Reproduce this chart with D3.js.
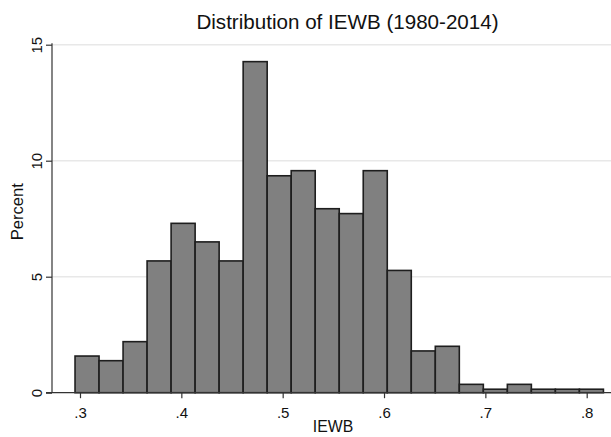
<!DOCTYPE html>
<html>
<head>
<meta charset="utf-8">
<script src="https://cdn.jsdelivr.net/npm/d3@7"></script>
<style>
html,body{margin:0;padding:0;background:#fff;}
svg{display:block;font-family:"Liberation Sans",Arial,Helvetica,sans-serif;}
</style>
</head>
<body>
<svg id="chart" width="611" height="437"></svg>
<script>
// Histogram bin lower/upper edges (IEWB)
const binEdges = [0.2951,0.3188,0.3425,0.3662,0.3899,0.4136,0.4373,0.4610,0.4847,0.5084,0.5321,
                  0.5558,0.5795,0.6032,0.6269,0.6506,0.6743,0.6980,0.7217,0.7454,0.7691,0.7928,0.8165];
// Percent in each bin
const percents = [1.58,1.38,2.20,5.68,7.30,6.50,5.68,14.27,9.35,9.57,7.93,
                  7.72,9.57,5.27,1.80,2.00,0.36,0.15,0.36,0.15,0.15,0.15];
const xTicks = [0.3,0.4,0.5,0.6,0.7,0.8];
const xTickLabels = [".3",".4",".5",".6",".7",".8"];
const yTicks = [0,5,10,15];
const yTickLabels = ["0","5","10","15"];
const title = "Distribution of IEWB (1980-2014)";
const xTitle = "IEWB";
const yTitle = "Percent";

const svg = d3.select("#chart");
const axisX = 52, axisY = 392.7, plotRight = 611;

const x = d3.scaleLinear().domain([0.3, 0.8]).range([80, 586.7]);
const y = d3.scaleLinear().domain([0, 15]).range([axisY, 44.7]);

// gridlines
svg.append("g").selectAll("line").data(yTicks.filter(d => d > 0)).join("line")
  .attr("x1", axisX).attr("x2", plotRight)
  .attr("y1", d => y(d)).attr("y2", d => y(d))
  .attr("stroke", "#e8e8e8").attr("stroke-width", 1.4);

// bars
const bins = percents.map((p, i) => ({x0: binEdges[i], x1: binEdges[i + 1], p}));
svg.append("g").selectAll("rect").data(bins).join("rect")
  .attr("x", d => x(d.x0))
  .attr("width", d => x(d.x1) - x(d.x0))
  .attr("y", d => y(d.p))
  .attr("height", d => y(0) - y(d.p))
  .attr("fill", "#808080")
  .attr("stroke", "#1e1e1e")
  .attr("stroke-width", 1.6);

// x axis
const xAxis = d3.axisBottom(x).tickValues(xTicks)
  .tickFormat((d, i) => xTickLabels[i]).tickSize(5.5).tickPadding(3);
const gx = svg.append("g").attr("transform", `translate(0,${axisY})`).call(xAxis);
gx.select(".domain").remove();
gx.append("line").attr("x1", axisX - 6).attr("x2", plotRight).attr("y1", 0).attr("y2", 0)
  .attr("stroke", "#333").attr("stroke-width", 1.2);
gx.selectAll(".tick line").attr("stroke", "#333").attr("stroke-width", 1.2);
gx.selectAll(".tick text").attr("font-size", 15).attr("fill", "#111")
  .attr("font-family", "Liberation Sans, Arial, sans-serif").attr("dy", "1.1em");

// y axis
const yAxis = d3.axisLeft(y).tickValues(yTicks)
  .tickFormat((d, i) => yTickLabels[i]).tickSize(6).tickPadding(0);
const gy = svg.append("g").attr("transform", `translate(${axisX},0)`).call(yAxis);
gy.select(".domain").remove();
gy.append("line").attr("x1", 0).attr("x2", 0).attr("y1", y(15) - 1.5).attr("y2", axisY)
  .attr("stroke", "#333").attr("stroke-width", 1.2);
gy.selectAll(".tick line").attr("stroke", "#333").attr("stroke-width", 1.2);
gy.selectAll(".tick text").attr("font-size", 15).attr("fill", "#111")
  .attr("font-family", "Liberation Sans, Arial, sans-serif")
  .attr("text-anchor", "middle").attr("dy", 0)
  .attr("transform", "translate(-10.5,0) rotate(-90)").attr("x", 0).attr("y", 0);

// titles
svg.append("text").attr("x", 347.5).attr("y", 28.5).attr("text-anchor", "middle")
  .attr("font-size", 20.6).attr("fill", "#111").text(title);
svg.append("text").attr("x", 333).attr("y", 431.5).attr("text-anchor", "middle")
  .attr("font-size", 15.8).attr("fill", "#111").text(xTitle);
svg.append("text").attr("transform", `translate(23.3,211.7) rotate(-90)`).attr("text-anchor", "middle")
  .attr("font-size", 16.6).attr("fill", "#111").text(yTitle);
</script>
</body>
</html>
